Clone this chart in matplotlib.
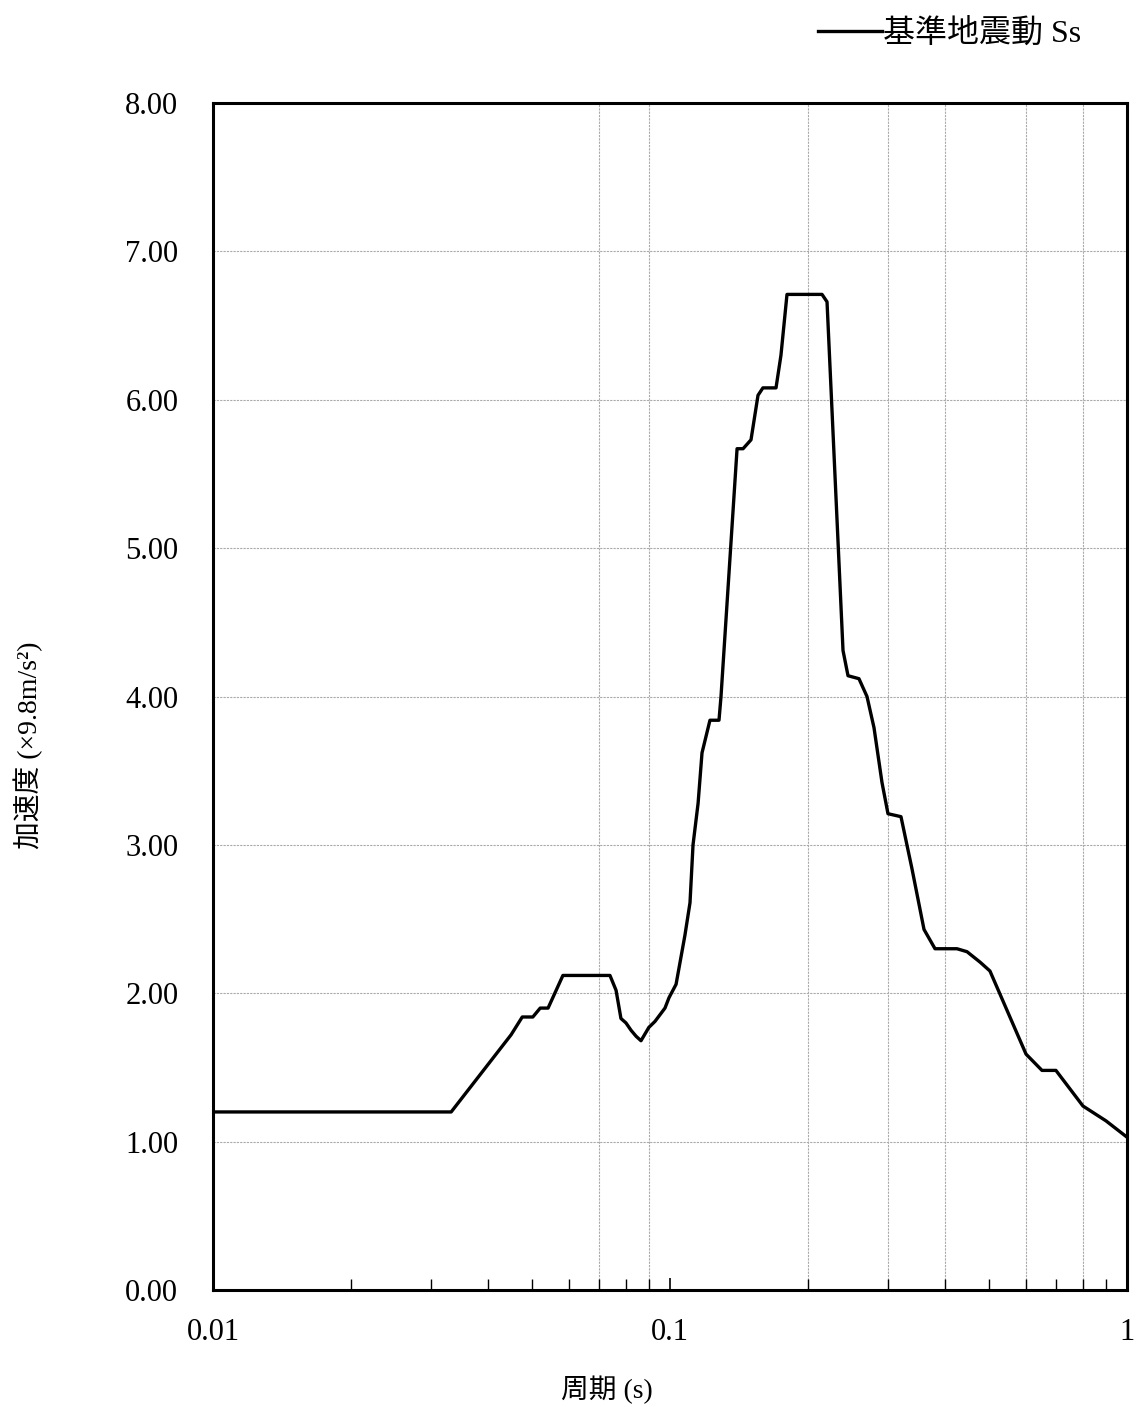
import matplotlib
matplotlib.use("Agg")
import matplotlib.pyplot as plt
from matplotlib.ticker import FixedLocator, NullFormatter

plt.rcParams['font.family'] = ['Liberation Serif', 'Noto Sans CJK JP', 'DejaVu Sans']

# period (s) and acceleration (x9.8 m/s2)
period = [0.01, 0.0332, 0.0449, 0.0475, 0.0501, 0.052, 0.0541, 0.0583, 0.0739,
          0.0762, 0.0781, 0.0801, 0.0822, 0.0843, 0.0864, 0.0899, 0.0927, 0.0975,
          0.0995, 0.1031, 0.1078, 0.1106, 0.1123, 0.1152, 0.1175, 0.1223, 0.128,
          0.1293, 0.1402, 0.1445, 0.1504, 0.1558, 0.1597, 0.1706, 0.1749, 0.1803,
          0.2151, 0.2206, 0.2391, 0.2452, 0.2591, 0.2698, 0.2795, 0.291, 0.2999,
          0.3202, 0.3384, 0.3596, 0.3801, 0.4246, 0.4466, 0.4768, 0.5013, 0.6012,
          0.6516, 0.699, 0.801, 0.8995, 1.0]
accel = [1.20, 1.20, 1.72, 1.84, 1.84, 1.90, 1.90, 2.12, 2.12,
         2.02, 1.83, 1.80, 1.75, 1.71, 1.68, 1.77, 1.81, 1.90,
         1.97, 2.06, 2.39, 2.61, 3.00, 3.28, 3.62, 3.84, 3.84,
         4.00, 5.67, 5.67, 5.73, 6.03, 6.08, 6.08, 6.30, 6.71,
         6.71, 6.66, 4.31, 4.14, 4.12, 4.00, 3.79, 3.42, 3.21,
         3.19, 2.84, 2.43, 2.30, 2.30, 2.28, 2.21, 2.15, 1.59,
         1.48, 1.48, 1.24, 1.14, 1.03]

yticks = [0, 1, 2, 3, 4, 5, 6, 7, 8]
xticks = [0.01, 0.1, 1]
xtick_labels = ['0.01', '0.1', '1']
vgrid = [0.07, 0.09, 0.2, 0.3, 0.4, 0.6, 0.8]

fig = plt.figure(figsize=(11.39, 14.07), dpi=100)
ax = fig.add_axes([213/1139, 1 - 1290/1407, (1127-213)/1139, (1290-103)/1407])

ax.plot(period, accel, color='black', lw=2.4, label='基準地震動 Ss', zorder=3)

ax.set_xscale('log')
ax.set_xlim(0.01, 1)
ax.set_ylim(0, 8)

ax.set_yticks(yticks)
ax.set_yticklabels(['%.2f' % v for v in yticks])
ax.set_xticks(xticks)
ax.set_xticklabels(xtick_labels)
minors = [m * d for d in (0.01, 0.1) for m in range(2, 10)]
ax.xaxis.set_minor_locator(FixedLocator(minors))
ax.xaxis.set_minor_formatter(NullFormatter())
ax.tick_params(axis='x', which='major', direction='in', length=9, width=1.2,
               labelsize=22, pad=20)
ax.tick_params(axis='x', which='minor', direction='in', length=8, width=1.0)
ax.tick_params(axis='y', which='both', length=0, labelsize=22, pad=25)

for v in yticks[1:-1]:
    ax.axhline(v, color='#aaaaaa', lw=0.8, ls=(0, (2, 1)), zorder=1)
for v in vgrid:
    ax.axvline(v, color='#aaaaaa', lw=0.8, ls=(0, (2, 1)), zorder=1)

for s in ax.spines.values():
    s.set_linewidth(2.2)

fig.text(28/1139, 1 - 745/1407, '加速度 (×9.8m/s²)', fontsize=20, rotation=90,
         ha='center', va='center')
fig.text(607/1139, 1 - 1390/1407, '周期 (s)', fontsize=20, ha='center', va='center')

ax.legend(loc='upper right', bbox_to_anchor=(1094/1139, 1 - 6/1407),
          bbox_transform=fig.transFigure, frameon=False, fontsize=23,
          handlelength=2.0, handletextpad=0.05, borderaxespad=0)

fig.savefig('out.png', dpi=100)
